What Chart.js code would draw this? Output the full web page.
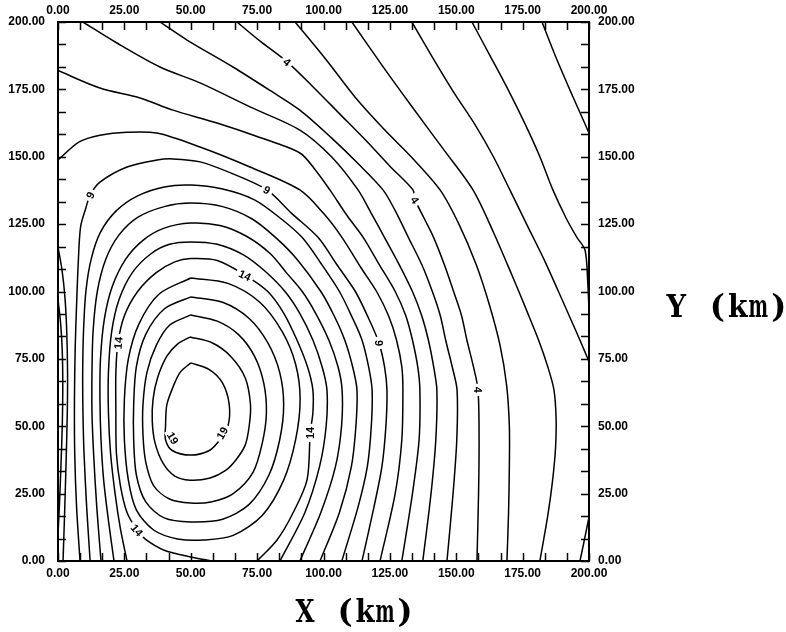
<!DOCTYPE html>
<html>
<head>
<meta charset="utf-8">
<title>Contour plot</title>
<script src="https://cdn.jsdelivr.net/npm/chart.js@4.4.1/dist/chart.umd.min.js"></script>
<style>
  html, body { margin: 0; padding: 0; background: #fff; }
  #wrap { position: relative; width: 786px; height: 632px; }
</style>
</head>
<body>
<div id="wrap"><canvas id="contourChart" width="786" height="632"></canvas></div>
<script>
// axis labels (km) and the small inward tick marks
const axisLabels = [0, 25, 50, 75, 100, 125, 150, 175, 200];
const tickMarks = [0, 8.33, 16.67, 25, 33.33, 41.67, 50, 58.33, 66.67, 75, 83.33, 91.67, 100,
  108.33, 116.67, 125, 133.33, 141.67, 150, 158.33, 166.67, 175, 183.33, 191.67, 200];

// contour lines, [x km, y km]
const cM1 = [[182.3,200],[187.5,187],[192.8,174.8],[197,165.5],[200,158.8]];
const c0 = [[155.9,200],[163,187],[170,174],[176,162],[181.5,150],[186.4,137.7],[191.5,127],[195.5,120],[198.5,115.4],[199.5,104],[200,93]];
const c1 = [[133.3,200],[141,187],[149,174],[157,162],[164,150],[170.2,137.7],[177,124],[183,112],[188.5,100],[193,90],[197,81],[200,74]];
const c1b = [[200,16.3],[198.3,8],[196.6,0]];
const c2 = [[110.7,200],[122,184],[133,169],[145,153],[156.3,137.7],[164,122],[171,106],[176.5,93],[181,82],[184.5,72],[186.8,63.5],[187.6,53],[187.4,42],[186.3,30],[184.5,17],[181.5,0]];
const c3 = [[89.3,200],[101,186],[112,172],[123,160],[133,150],[143.9,137.7],[151,125],[157.5,110],[162.5,95],[166.5,80],[169,65],[170,50],[170,35],[169.7,18],[169.1,0]];
const c4 = [[67.4,200],[76,193],[86.3,185.2],[96,176],[106,166],[116,156],[125,146.5],[133.7,137.7],[134.5,134],[138,127],[141.5,120],[145.5,110],[149,100],[152,91],[154,82],[156.5,72],[158.2,63.5],[158.6,45],[158.4,25],[157.8,0]];
const c5 = [[38.4,200],[48.6,193.3],[65.9,183.3],[80,174.5],[91.1,167.3],[103,157],[113,147.5],[122.4,137.7],[127,130],[132,120],[137,110],[141,100],[144,91],[146,82],[148.5,72],[150.3,63.5],[150.2,45],[148.8,25],[146.5,0]];
const c6 = [[9.4,200],[22.2,192.2],[38.4,183.3],[53.5,177.4],[72.3,168.5],[91.1,159.9],[103,150],[113,137.7],[118,129],[123,120],[128.5,110],[133.5,100],[137,91],[139.5,82],[141.5,72],[142.7,63.5],[142.3,45],[140.5,25],[137.4,0]];
const c7 = [[0,182],[15.8,175.5],[30.9,171.8],[43.3,167.3],[59.9,162.5],[75,157.5],[91.1,151.4],[97,145],[102.4,137.7],[109,128],[115,120],[121,110],[127,100],[131,91],[133.5,82],[135.5,72],[136.3,63.5],[136,45],[133.5,25],[129.5,0]];
const c7b = [[0,97],[1,88],[1.6,78],[1.8,65],[1.6,50],[1.1,35],[0.5,20],[0,10]];
const c8 = [[0,148.8],[8,155.5],[15.8,158],[26,159.1],[37.3,158.8],[53.5,153.6],[72.3,146.2],[91.1,137.7],[100,129],[107,120],[114,109],[120,100],[124.5,91],[127.5,82],[129.5,72],[129.9,63.5],[129.5,45],[127,25],[121.3,0]];
const c8b = [[0,116.5],[1.5,108],[2.6,98],[3.3,85],[3.6,70],[3.5,55],[3,35],[2.5,18],[1.9,0]];
const c9 = [[8.3,0],[7,20],[6.3,40],[6.2,60],[6.5,80],[7,95],[7.6,110],[8.5,124],[10.5,131],[12.1,135.8],[15.8,140.6],[26,146.2],[37.3,148.8],[43.3,149.2],[53.5,148.1],[65,144],[78.7,137.7],[88,129],[98,120],[105,110],[112,100],[117,90],[120.9,80.9],[123,72],[123.9,63.5],[123.5,50],[122,35],[119,20],[114.5,0]];
const c10 = [[12.1,0],[10.8,20],[9.8,40],[9.4,55],[9.3,70],[9.6,85],[10.5,100],[12.5,112],[16,122],[22,130],[30,135.5],[40,138.8],[50,139.5],[62,138],[74,134],[84,127],[92,120],[99,110.5],[106,100],[111,90],[114.5,82],[117,72],[118.3,63.5],[118,50],[116.5,35],[113,20],[106.9,0]];
const c11 = [[16.2,0],[14.6,20],[13.4,40],[12.8,55],[12.8,70],[13.2,85],[14.8,100],[18,112],[23,121],[30,127.5],[40,131.5],[50,132.8],[62,131.5],[73,127],[82,120],[90,112],[99,100],[104,91],[108,82],[111,72],[112.6,63.5],[112.2,50],[110.5,35],[106,18],[98.7,0]];
const c12 = [[21.1,0],[19,15],[17.2,30],[16.2,45],[15.8,60],[16,75],[17.5,90],[20.5,102],[25.5,112],[32,119],[40,123.5],[50,125.4],[61,124.5],[71,120.5],[80,114],[86,107],[92,100],[97,92],[102,82],[105.5,72],[107,63.5],[106.8,50],[104.5,35],[99,18],[91.1,0]];
const c13 = [[26,0],[23.5,12],[21.5,25],[19.8,40],[19,55],[19,70],[20.2,85],[23,97],[28,107],[35,114],[42,117.5],[50,118.4],[60,117.5],[70,113.5],[78,107.5],[85.5,100],[91,92],[96,82],[99.5,72],[101.3,63.5],[101,50],[98.5,35],[93,18],[83.6,0]];
const c14 = [[58,0],[50,1.5],[40,4],[33,8],[29.8,11.5],[26,18],[23.5,28],[22,40],[21.8,55],[21.8,70],[22.6,81],[25,91],[30,100],[37,107],[44,111],[50,112.2],[60,111.5],[70.4,106.1],[79,100],[85,92],[90,82],[94,72],[96,63.5],[96,55],[95,47.5],[93.8,30.1],[88.5,17.8],[82.5,7.8],[75,0]];
const c15 = [[50,105],[64,103],[76,96],[84.5,85],[89.5,73],[91.2,60],[89.5,45],[85,30],[77,17],[66,9.5],[55,7.8],[45,8.2],[36,11.5],[29.5,19],[26.5,30],[25,45],[25,60],[26.5,75],[30.5,88],[38,99],[50,105]];
const c16 = [[50,98],[62,96],[72,90],[79,81],[83.5,70],[85,58],[83.5,45],[79.5,32],[72,21],[62,15.5],[50,14.5],[40,16],[33,22],[29.5,32],[28.5,45],[28.5,58],[29.5,72],[33,84],[40,93.5],[50,98]];
const c17 = [[50,91.3],[60,89],[68,84],[74,76],[77.5,66],[78.5,55],[77,44],[73.5,33],[66,25],[58,22],[50,21.5],[42,23],[36,28],[33,37],[32,47],[32,58],[33.5,70],[37,80],[42,87.5],[50,91.3]];
const c18 = [[49.7,83.1],[58,81],[65,76],[70.5,68],[72.5,58],[72,50],[70.5,43],[67,37.5],[63,33.5],[57.3,30.8],[49.7,30],[44,31.5],[39.5,36.4],[36.5,44],[35.5,52],[35.8,60],[37.5,68],[41,76],[45,80.5],[49.7,83.1]];
const c19 = [[50,73.5],[57,71],[62,66],[64.5,58],[64,50],[61,45],[57,41],[50,39.3],[43,41],[40.5,45],[40.5,50],[41,58],[43.5,65],[46,70],[50,73.5]];

const contourLines = [cM1, c0, c1, c1b, c2, c3, c4, c5, c6, c7, c7b, c8, c8b, c9, c10,
  c11, c12, c13, c14, c15, c16, c17, c18, c19];

// contour value labels: text, position (km), rotation (deg)
const labelText = ['4', '9', '9', '4', '14', '9', '14', '4', '19', '19', '14', '14'];
const labelX = [86.3, 12.1, 78.7, 134.5, 70.4, 120.9, 22.6, 158.2, 43.3, 61.8, 95.0, 29.8];
const labelY = [185.2, 135.8, 137.7, 134.0, 106.1, 80.9, 80.9, 63.5, 45.6, 47.5, 47.5, 11.5];
const labelAngle = [40, -65, 30, 55, 25, 90, -85, 90, 60, -60, -90, 50];

const tickFont = { family: 'Liberation Sans', size: 12, weight: 'bold' };

function axisOpts(pos, size, pad) {
    return {
        type: 'linear',
        position: pos,
        min: 0,
        max: 200,
        grid: { display: false, drawTicks: false, tickLength: 0 },
        border: { display: true, color: '#000', width: 2 },
        ticks: {
            stepSize: 25,
            autoSkip: false,
            maxRotation: 0,
            minRotation: 0,
            padding: pad,
            color: '#000',
            font: tickFont,
            callback: v => axisLabels.includes(v) ? v.toFixed(2) : ''
        },
        afterFit: function(s) {
            if (s.isHorizontal()) s.height = size; else s.width = size;
        }
    };
}

// axis titles drawn one character per fixed cell, like a typewriter face
function drawMonoText(ctx, text, x0, baseline, cell) {
    for (let i = 0; i < text.length; i++) {
        const ch = text[i];
        if (ch === ' ') continue;
        const w = ctx.measureText(ch).width;
        const sx = w > cell - 1 ? (cell - 1) / w : 1;
        ctx.save();
        ctx.translate(x0 + cell * i + cell / 2, baseline);
        ctx.scale(sx, 1);
        ctx.fillText(ch, 0, 0);
        ctx.restore();
    }
}

const decorations = {
    id: 'decorations',
    afterDatasetsDraw(chart) {
        const ctx = chart.ctx;
        const xs = chart.scales.x, ys = chart.scales.y;
        const a = chart.chartArea;
        ctx.save();

        // inward ticks on all four sides
        ctx.strokeStyle = '#000';
        ctx.lineWidth = 1.5;
        ctx.beginPath();
        tickMarks.forEach(t => {
            const px = Math.round(xs.getPixelForValue(t)) + 0.5;
            const py = Math.round(ys.getPixelForValue(t)) + 0.5;
            ctx.moveTo(px, a.bottom); ctx.lineTo(px, a.bottom - 8);
            ctx.moveTo(px, a.top); ctx.lineTo(px, a.top + 8);
            ctx.moveTo(a.left, py); ctx.lineTo(a.left + 8, py);
            ctx.moveTo(a.right, py); ctx.lineTo(a.right - 8, py);
        });
        ctx.stroke();

        // contour value labels with a gap in the line
        ctx.font = 'bold 11px "Liberation Sans"';
        ctx.textAlign = 'center';
        ctx.textBaseline = 'middle';
        for (let i = 0; i < labelText.length; i++) {
            const px = xs.getPixelForValue(labelX[i]);
            const py = ys.getPixelForValue(labelY[i]);
            ctx.save();
            ctx.translate(px, py);
            ctx.rotate(labelAngle[i] * Math.PI / 180);
            const w = ctx.measureText(labelText[i]).width;
            ctx.fillStyle = '#fff';
            ctx.fillRect(-w / 2 - 3, -5, w + 6, 10);
            ctx.fillStyle = '#000';
            ctx.fillText(labelText[i], 0, 1);
            ctx.restore();
        }
        ctx.restore();
    },
    afterDraw(chart) {
        const ctx = chart.ctx;
        ctx.save();
        ctx.fillStyle = '#000';
        ctx.font = 'bold 32px "DejaVu Serif"';
        ctx.textAlign = 'center';
        ctx.textBaseline = 'alphabetic';
        drawMonoText(ctx, 'X (km)', 295, 622, 20);
        drawMonoText(ctx, 'Y (km)', 666, 317, 20.5);
        ctx.restore();
    }
};

const ctx = document.getElementById('contourChart').getContext('2d');
new Chart(ctx, {
    type: 'scatter',
    data: {
        datasets: contourLines.map((pts, i) => ({
            label: 'contour ' + i,
            data: pts.map(p => ({ x: p[0], y: p[1] })),
            showLine: true,
            borderColor: '#000',
            borderWidth: 1.5,
            pointRadius: 0,
            pointHoverRadius: 0,
            fill: false,
            tension: 0.3,
            xAxisID: 'x',
            yAxisID: 'y'
        }))
    },
    options: {
        responsive: false,
        animation: false,
        events: [],
        layout: { padding: 0 },
        plugins: {
            legend: { display: false },
            tooltip: { enabled: false }
        },
        scales: {
            x: axisOpts('bottom', 71, 5),
            x2: axisOpts('top', 22, 4),
            y: axisOpts('left', 58, 13),
            y2: axisOpts('right', 197, 9)
        }
    },
    plugins: [decorations]
});
</script>
</body>
</html>
